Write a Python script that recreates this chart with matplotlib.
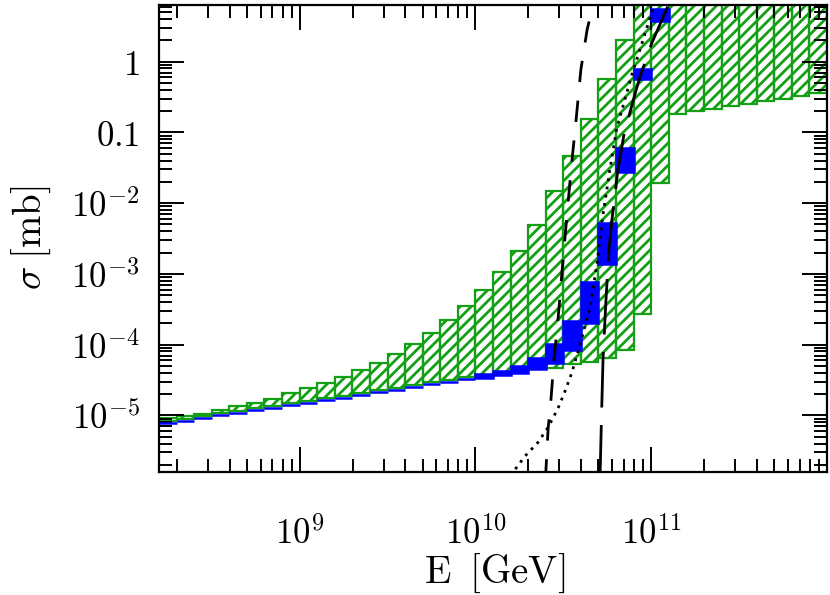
import numpy as np
import matplotlib
matplotlib.use('Agg')
import matplotlib.pyplot as plt
from matplotlib.ticker import FixedLocator, FixedFormatter, LogLocator, NullFormatter

plt.rcParams['mathtext.fontset'] = 'cm'
plt.rcParams['font.family'] = ['DejaVu Serif']
plt.rcParams['hatch.linewidth'] = 2.0

# energy bins, log10(E/GeV) edges
log_edges = [8.2, 8.3, 8.4, 8.5, 8.6, 8.7, 8.8, 8.9, 9.0, 9.1, 9.2, 9.3, 9.4,
             9.5, 9.6, 9.7, 9.8, 9.9, 10.0, 10.1, 10.2, 10.3, 10.4, 10.5, 10.6,
             10.7, 10.8, 10.9, 11.0, 11.1, 11.2, 11.3, 11.4, 11.5, 11.6, 11.7,
             11.8, 11.9, 12.0]

# green hatched band (mb), upper edge clipped above the frame past 8e10 GeV
green_lo = [8.41e-6, 8.87e-6, 9.68e-6, 1.07e-5, 1.16e-5, 1.27e-5, 1.35e-5, 1.49e-5,
            1.61e-5, 1.75e-5, 1.90e-5, 2.07e-5, 2.27e-5, 2.44e-5, 2.70e-5, 2.92e-5,
            3.19e-5, 3.44e-5, 3.67e-5, 3.98e-5, 4.32e-5, 4.61e-5, 4.72e-5, 5.25e-5,
            5.66e-5, 6.53e-5, 8.28e-5, 2.73e-4, 1.94e-2, 0.182, 0.199, 0.217,
            0.234, 0.255, 0.279, 0.300, 0.324, 0.356]
green_hi = [9.29e-6, 9.84e-6, 1.05e-5, 1.18e-5, 1.34e-5, 1.51e-5, 1.73e-5, 2.04e-5,
            2.40e-5, 2.83e-5, 3.48e-5, 4.32e-5, 5.55e-5, 7.31e-5, 1.02e-4, 1.44e-4,
            2.22e-4, 3.50e-4, 5.89e-4, 1.07e-3, 2.09e-3, 4.83e-3, 1.47e-2, 4.70e-2,
            0.153, 0.575, 2.05, 20.0, 20.0, 20.0, 20.0, 20.0,
            20.0, 20.0, 20.0, 20.0, 20.0, 20.0]

# blue band (mb), first 29 bins
blue_lo = [7.89e-6, 8.31e-6, 9.08e-6, 1.00e-5, 1.09e-5, 1.19e-5, 1.27e-5, 1.40e-5,
           1.51e-5, 1.64e-5, 1.78e-5, 1.94e-5, 2.13e-5, 2.31e-5, 2.54e-5, 2.74e-5,
           2.99e-5, 3.22e-5, 3.40e-5, 3.67e-5, 4.01e-5, 4.47e-5, 5.55e-5, 8.28e-5,
           2.04e-4, 1.36e-3, 2.77e-2, 0.570, 3.76]
blue_hi = [7.89e-6, 8.31e-6, 9.08e-6, 1.00e-5, 1.09e-5, 1.19e-5, 1.27e-5, 1.40e-5,
           1.51e-5, 1.64e-5, 1.78e-5, 1.94e-5, 2.13e-5, 2.31e-5, 2.54e-5, 2.74e-5,
           2.99e-5, 3.22e-5, 3.79e-5, 4.22e-5, 4.97e-5, 6.53e-5, 1.01e-4, 2.15e-4,
           7.73e-4, 5.27e-3, 6.04e-2, 0.789, 5.55]

# curves
dash_E = [2.50e10, 2.59e10, 2.69e10, 2.80e10, 2.95e10, 3.10e10, 3.27e10, 3.50e10,
          3.73e10, 3.98e10, 4.32e10, 4.67e10]
dash_s = [1.2e-6, 6.34e-6, 1.68e-5, 6.18e-5, 2.27e-4, 9.82e-4, 4.52e-3, 2.99e-2,
          0.142, 0.771, 2.83, 6.38]
long_E = [5.11e10, 5.21e10, 5.32e10, 5.53e10, 5.75e10, 5.98e10, 6.47e10, 7.00e10,
          7.78e10, 8.63e10, 1.01e11, 1.24e11]
long_s = [1.2e-6, 8.79e-6, 6.18e-5, 4.35e-4, 2.21e-3, 5.86e-3, 2.99e-2, 9.31e-2,
          0.247, 0.614, 1.85, 5.98]
dot_E = [1.58e10, 1.91e10, 2.27e10, 2.59e10, 2.95e10, 3.23e10, 3.54e10, 3.94e10,
         4.49e10, 4.91e10, 5.32e10, 5.82e10, 6.38e10, 7.08e10, 7.76e10, 8.63e10,
         9.57e10, 1.04e11]
dot_s = [1.4e-6, 2.64e-6, 4.16e-6, 6.78e-6, 1.26e-5, 2.18e-5, 4.05e-5, 1.01e-4,
         3.35e-4, 1.36e-3, 6.90e-3, 2.99e-2, 0.117, 0.290, 0.655, 1.48,
         3.33, 6.38]

green = '#14a014'
edges = 10 ** np.array(log_edges)
left, right = edges[:-1], edges[1:]
nb = len(blue_lo)

fig = plt.figure(figsize=(8.3, 5.95), dpi=100)
ax = fig.add_axes([159 / 830, 123 / 595, 668 / 830, 467 / 595])
ax.set_xscale('log')
ax.set_yscale('log')

ax.bar(left, np.array(green_hi) - np.array(green_lo), width=right - left,
       bottom=green_lo, align='edge', fill=False, hatch='///',
       edgecolor=green, linewidth=1.6, zorder=1)
ax.bar(left[:nb], np.array(blue_hi) - np.array(blue_lo), width=right[:nb] - left[:nb],
       bottom=blue_lo, align='edge', color='#0000ff', edgecolor='#0000ff',
       linewidth=1.8, zorder=2)

ax.plot(dash_E, dash_s, color='black', lw=2, dashes=(7.7, 6.7), zorder=3)
ax.plot(long_E, long_s, color='black', lw=2, dashes=(20, 6.3), zorder=3)
ax.plot(dot_E, dot_s, color='black', lw=2, dashes=(1, 2), zorder=3)

ax.set_xlim(10 ** 8.2, 1e12)
ax.set_ylim(10 ** -5.8, 10 ** 0.8)

ax.xaxis.set_major_locator(FixedLocator([1e9, 1e10, 1e11, 1e12]))
ax.xaxis.set_major_formatter(FixedFormatter([r'$10^{9}$', r'$10^{10}$', r'$10^{11}$', '']))
ax.yaxis.set_major_locator(FixedLocator([1e-5, 1e-4, 1e-3, 1e-2, 0.1, 1]))
ax.yaxis.set_major_formatter(FixedFormatter([r'$10^{-5}$', r'$10^{-4}$', r'$10^{-3}$',
                                             r'$10^{-2}$', r'$0.1$', r'$1$']))
for axis in (ax.xaxis, ax.yaxis):
    axis.set_minor_locator(LogLocator(base=10, subs=np.arange(2, 10) * 1.0, numticks=50))
    axis.set_minor_formatter(NullFormatter())

ax.tick_params(which='both', direction='in', top=True, right=True, width=1.4)
ax.tick_params(which='major', length=18, labelsize=25)
ax.tick_params(which='minor', length=9.5)
ax.tick_params(axis='x', which='major', pad=32)
ax.tick_params(axis='y', which='major', pad=14)
for sp in ax.spines.values():
    sp.set_linewidth(1.6)

fig.text(495 / 830, 1 - 573 / 595, r'$\mathrm{E\;\;[GeV]}$', ha='center', va='center', fontsize=28)
fig.text(31 / 830, 1 - 238 / 595, r'$\sigma\;[\mathrm{mb}]$', rotation=90,
         ha='center', va='center', fontsize=28)

fig.savefig('out.png', dpi=100)
